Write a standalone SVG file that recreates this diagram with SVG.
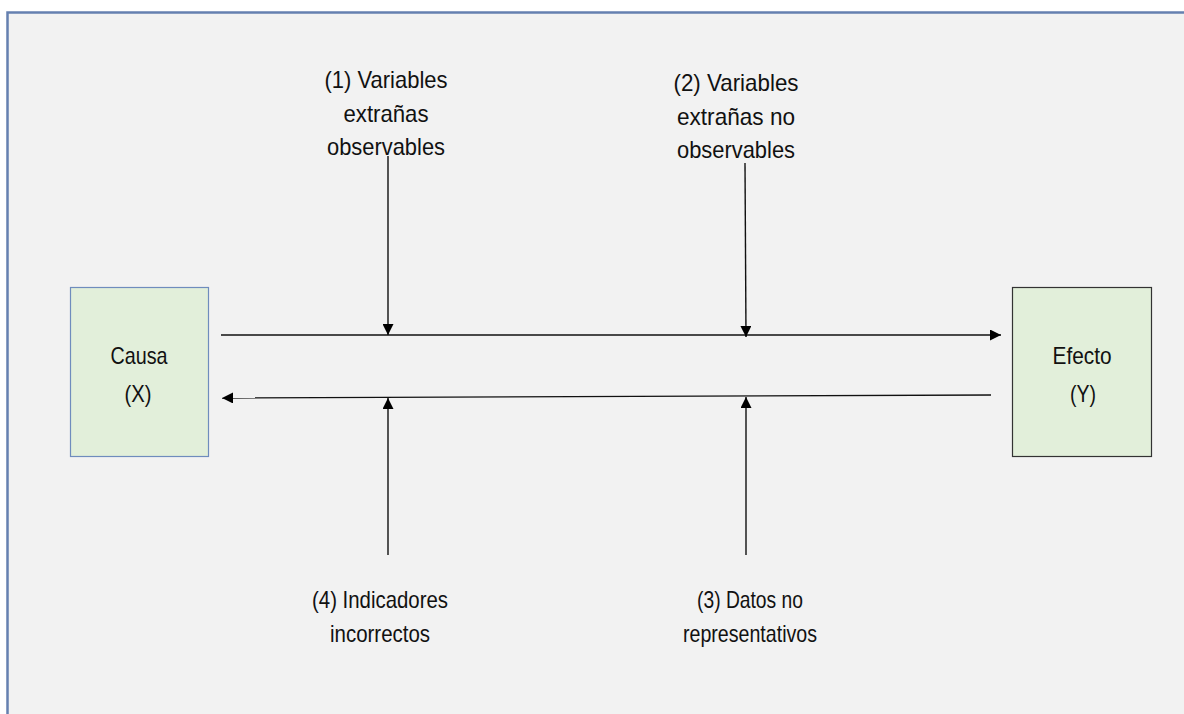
<svg xmlns="http://www.w3.org/2000/svg" width="1184" height="714" viewBox="0 0 1184 714">
<defs>
<marker id="ah" viewBox="0 0 10 10" refX="10" refY="5" markerWidth="11" markerHeight="11" markerUnits="userSpaceOnUse" orient="auto">
<path d="M0,0 L10,5 L0,10 z" fill="#000"/>
</marker>
<style>
text{font-family:"Liberation Sans",Arial,sans-serif;font-size:24px;fill:#111;text-anchor:middle}
.box{fill:#e2efda}
.c{stroke:#111;stroke-width:1.4;fill:none;marker-end:url(#ah)}
</style>
</defs>
<rect x="0" y="0" width="1184" height="714" fill="#ffffff"/>
<rect x="7.5" y="12.5" width="1190" height="710" fill="#f2f2f2" stroke="#6580b0" stroke-width="2.5"/>
<g id="causa">
<rect class="box" x="70.5" y="287.5" width="138" height="169" stroke="#6f8cbd" stroke-width="1.2"/>
<text x="139" y="364" textLength="57" lengthAdjust="spacingAndGlyphs">Causa</text>
<text x="138" y="402" textLength="27" lengthAdjust="spacingAndGlyphs">(X)</text>
</g>
<g id="efecto">
<rect class="box" x="1012.5" y="287.5" width="139" height="169" stroke="#333" stroke-width="1.2"/>
<text x="1082" y="364" textLength="59" lengthAdjust="spacingAndGlyphs">Efecto</text>
<text x="1083" y="402" textLength="26" lengthAdjust="spacingAndGlyphs">(Y)</text>
</g>
<g id="label1">
<text x="386" y="88" textLength="123" lengthAdjust="spacingAndGlyphs">(1) Variables</text>
<text x="386" y="122" textLength="85" lengthAdjust="spacingAndGlyphs">extrañas</text>
<text x="386" y="155" textLength="118" lengthAdjust="spacingAndGlyphs">observables</text>
</g>
<g id="label2">
<text x="736" y="91" textLength="125" lengthAdjust="spacingAndGlyphs">(2) Variables</text>
<text x="736" y="125" textLength="118" lengthAdjust="spacingAndGlyphs">extrañas no</text>
<text x="736" y="158" textLength="118" lengthAdjust="spacingAndGlyphs">observables</text>
</g>
<g id="label3">
<text x="750" y="608" textLength="106" lengthAdjust="spacingAndGlyphs">(3) Datos no</text>
<text x="750" y="642" textLength="134" lengthAdjust="spacingAndGlyphs">representativos</text>
</g>
<g id="label4">
<text x="380" y="608" textLength="136" lengthAdjust="spacingAndGlyphs">(4) Indicadores</text>
<text x="380" y="642" textLength="100" lengthAdjust="spacingAndGlyphs">incorrectos</text>
</g>
<g id="connectors">
<line class="c" x1="221" y1="335" x2="1001" y2="335"/>
<line class="c" x1="991" y1="395" x2="222" y2="398"/>
<line class="c" x1="388" y1="156" x2="388" y2="335"/>
<line class="c" x1="745" y1="163" x2="746" y2="337"/>
<line class="c" x1="388" y1="555" x2="388" y2="398"/>
<line class="c" x1="746" y1="555" x2="746" y2="397"/>
</g>
</svg>
